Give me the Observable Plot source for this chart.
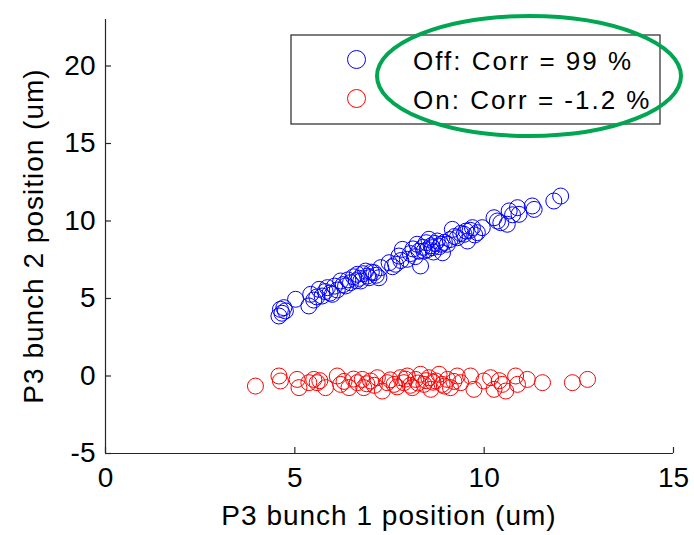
<!DOCTYPE html>
<html>
<head>
<meta charset="utf-8">
<script src="https://cdn.jsdelivr.net/npm/d3@7"></script>
<script src="https://cdn.jsdelivr.net/npm/@observablehq/plot@0.6"></script>
<style>
  html, body { margin: 0; padding: 0; background: #fff; }
  svg { display: block; }
</style>
</head>
<body>
<div id="chart"></div>
<script>
// Off (blue) series: bunch 1 vs bunch 2 positions (um)
const offX = [4.58,4.62,4.71,4.66,4.75,5.02,5.37,5.42,5.50,5.58,5.64,5.72,5.80,5.86,5.93,5.99,6.05,6.12,6.21,6.28,6.34,6.40,6.47,6.55,6.62,6.65,6.70,6.74,6.80,6.87,6.92,6.96,7.02,7.09,7.15,7.22,7.27,7.49,7.58,7.66,7.75,7.80,7.84,7.97,8.05,8.12,8.18,8.23,8.28,8.32,8.38,8.41,8.47,8.50,8.54,8.60,8.63,8.66,8.70,8.76,8.82,8.86,8.90,8.95,9.03,9.10,9.16,9.22,9.29,9.38,9.47,9.52,9.56,9.63,9.69,9.75,9.82,9.95,10.26,10.35,10.44,10.61,10.66,10.75,10.88,10.92,11.27,11.32,11.84,12.02];
const offY = [3.87,4.30,4.41,4.05,4.20,4.95,4.52,5.27,4.90,5.10,5.59,5.16,5.45,5.70,5.35,5.27,5.80,5.55,6.13,5.90,5.81,6.20,6.02,6.40,6.15,6.56,6.30,6.13,6.60,6.77,6.45,6.34,6.70,6.67,6.50,6.34,6.99,7.31,7.05,7.21,7.74,7.45,8.17,7.53,7.90,8.20,7.70,8.50,8.05,7.10,8.30,8.06,8.60,8.15,8.82,8.40,8.28,8.00,8.55,8.71,8.35,8.50,7.95,8.62,8.50,8.80,9.46,9.00,8.92,9.20,9.14,9.35,8.71,9.40,9.57,9.10,9.25,9.57,10.21,10.00,9.89,9.79,10.65,10.40,10.86,10.43,10.97,10.75,11.29,11.61];

// On (red) series
const onX = [3.96,4.58,4.62,5.06,5.11,5.37,5.50,5.59,5.66,5.81,6.12,6.21,6.30,6.43,6.55,6.65,6.78,6.82,6.90,7.00,7.10,7.18,7.31,7.44,7.52,7.62,7.70,7.79,7.88,7.92,7.97,8.05,8.10,8.19,8.25,8.32,8.41,8.47,8.54,8.59,8.65,8.72,8.81,8.89,8.95,9.03,9.11,9.20,9.29,9.38,9.64,9.73,9.99,10.17,10.26,10.40,10.48,10.57,10.83,10.88,11.14,11.54,12.33,12.73];
const onY = [-0.65,0.00,-0.32,-0.22,-0.75,-0.43,-0.22,-0.43,-0.30,-0.75,0.00,-0.54,-0.35,-0.75,-0.20,-0.43,-0.22,-0.75,-0.50,-0.32,-0.60,-0.11,-0.97,-0.43,-0.25,-0.54,-0.70,-0.11,-0.43,-0.20,0.00,-0.60,-0.75,-0.22,-0.45,0.11,-0.54,-0.30,-0.11,-0.86,-0.40,-0.32,0.11,-0.54,-0.65,-0.22,-0.75,-0.35,0.00,-0.43,0.00,-0.86,-0.32,-0.11,-0.86,-0.30,-0.54,-0.97,0.00,-0.54,-0.22,-0.43,-0.43,-0.22];

const xTicks = [0, 5, 10, 15];
const yTicks = [-5, 0, 5, 10, 15, 20];
const xDomain = [0, 15];
const yDomain = [-5, 23];
const legendLabels = ["Off: Corr = 99 %", "On: Corr = -1.2 %"];
const seriesColors = ["#0000ff", "#ff0000"];
const xLabel = "P3 bunch 1 position (um)";
const yLabel = "P3 bunch 2 position (um)";

const offData = offX.map((x, i) => ({x, y: offY[i]}));
const onData = onX.map((x, i) => ({x, y: onY[i]}));

const FONT = "'Liberation Sans', Arial, Helvetica, sans-serif";
const W = 694, H = 535, ML = 105, MR = 21, MT = 19, MB = 82;
const TICK = 6;
const AXIS = "#262626";

const svg = Plot.plot({
  width: W,
  height: H,
  marginLeft: ML,
  marginRight: MR,
  marginTop: MT,
  marginBottom: MB,
  style: {fontFamily: FONT, fontSize: "28px", color: "#000", background: "#fff"},
  x: {domain: xDomain},
  y: {domain: yDomain},
  marks: [
    Plot.dot(onData, {x: "x", y: "y", r: 8, stroke: seriesColors[1], strokeWidth: 1, fill: "none"}),
    Plot.dot(offData, {x: "x", y: "y", r: 8, stroke: seriesColors[0], strokeWidth: 1, fill: "none"}),
    // inward tick marks
    Plot.tickX(xTicks, {x: d => d, stroke: AXIS, strokeWidth: 1.2, insetTop: (H - MT - MB) - TICK}),
    Plot.tickY(yTicks, {y: d => d, stroke: AXIS, strokeWidth: 1.2, insetRight: (W - ML - MR) - TICK}),
    Plot.ruleX([xDomain[0]], {stroke: AXIS, strokeWidth: 1.2}),
    Plot.ruleY([yDomain[0]], {stroke: AXIS, strokeWidth: 1.2}),
    Plot.axisX({ticks: xTicks, tickSize: 0, tickPadding: 14, fontSize: 28, label: null, tickFormat: d => String(d), color: "#000"}),
    Plot.axisY({ticks: yTicks, tickSize: 0, tickPadding: 10, fontSize: 28, label: null, tickFormat: d => String(d), color: "#000"})
  ]
});

document.getElementById("chart").appendChild(svg);

const s = d3.select(svg);
// axis labels
s.append("text")
  .attr("x", 389).attr("y", 525)
  .attr("text-anchor", "middle")
  .attr("font-family", FONT).attr("font-size", 28).attr("letter-spacing", "1px")
  .attr("fill", "#000")
  .text(xLabel);
s.append("text")
  .attr("transform", "translate(43,236) rotate(-90)")
  .attr("text-anchor", "middle")
  .attr("font-family", FONT).attr("font-size", 28).attr("letter-spacing", "1px")
  .attr("fill", "#000")
  .text(yLabel);

// legend
const lg = s.append("g");
lg.append("rect").attr("x", 291).attr("y", 35).attr("width", 369).attr("height", 89)
  .attr("fill", "#fff").attr("stroke", AXIS).attr("stroke-width", 1.2);
const rowsY = [59.5, 98.5];
legendLabels.forEach((t, i) => {
  lg.append("circle").attr("cx", 356.5).attr("cy", rowsY[i]).attr("r", 9)
    .attr("fill", "none").attr("stroke", seriesColors[i]).attr("stroke-width", 1);
  lg.append("text").attr("x", 413).attr("y", rowsY[i] + 10)
    .attr("text-anchor", "start")
    .attr("font-family", FONT).attr("font-size", 26).attr("letter-spacing", "2px")
    .attr("fill", "#000").text(t);
});
// green annotation ellipse
s.append("ellipse").attr("cx", 529).attr("cy", 76).attr("rx", 152).attr("ry", 60)
  .attr("fill", "none").attr("stroke", "#00a651").attr("stroke-width", 4);
</script>
</body>
</html>
